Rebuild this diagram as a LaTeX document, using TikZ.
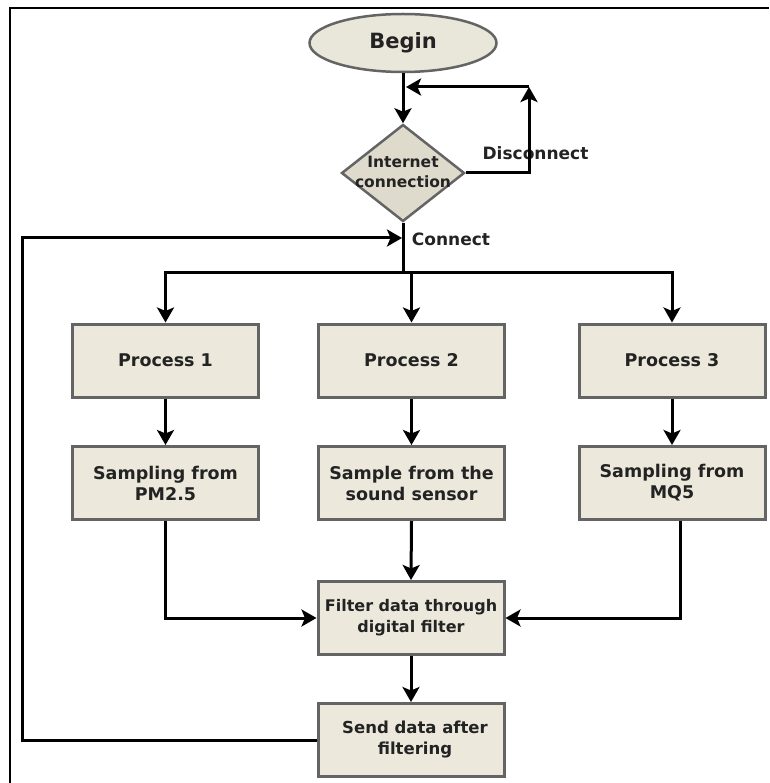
\documentclass[tikz,border=0pt]{standalone}
\usepackage{fontspec}
\setmainfont{DejaVu Sans}
\usetikzlibrary{shapes.geometric,arrows.meta}
\definecolor{boxfill}{RGB}{236,233,220}
\definecolor{ellfill}{RGB}{233,230,218}
\definecolor{diafill}{RGB}{222,219,205}
\definecolor{boxline}{RGB}{100,100,100}
\definecolor{txt}{RGB}{35,35,35}
\tikzset{
  flowbox/.style={draw=boxline, fill=boxfill, line width=3pt, minimum width=186pt, minimum height=73pt, inner sep=0pt, align=center, text=txt, font=\fontsize{17.5}{21}\selectfont\bfseries},
  conn/.style={line width=3pt, black},
  arr/.style={conn, -{Stealth[length=15pt,width=17pt,inset=3.5pt]}},
  lbl/.style={text=txt, font=\fontsize{17}{20}\selectfont\bfseries, inner sep=0pt}
}
\begin{document}
\begin{tikzpicture}[x=1pt,y=-1pt]
\useasboundingbox (0,0) rectangle (769,783);
% frame
\coordinate (fa) at (10,783);
\coordinate (fb) at (10,8);
\coordinate (fc) at (769,8);
\draw[line width=2.5pt] (fa) -- (fb) -- (fc);

\node[ellipse, draw=boxline, fill=ellfill, line width=2.5pt, minimum width=187pt, minimum height=58pt, inner sep=0pt, text=txt, font=\fontsize{21}{24}\selectfont\bfseries] (begin) at (403,43) {Begin};
\node[diamond, draw=boxline, fill=diafill, line width=2.5pt, minimum width=123pt, minimum height=97pt, inner sep=0pt] (inet) at (403,173) {};
\node[align=center, text=txt, inner sep=0pt, font=\fontsize{15.5}{20}\selectfont\bfseries] (inettext) at (403,172) {Internet\\connection};

\node[flowbox] (P1) at (165.5,360.5) {Process 1};
\node[flowbox] (P2) at (411.5,360.5) {Process 2};
\node[flowbox] (P3) at (672,360.5) {Process 3};
\node[flowbox] (S1) at (165.5,483) {Sampling from\\PM2.5};
\node[flowbox] (S2) at (411.5,483) {Sample from the\\sound sensor};
\node[flowbox] (S3) at (672,483) {Sampling from\\MQ5};
\node[flowbox, font=\fontsize{16}{21}\selectfont\bfseries] (F) at (411,618) {Filter data through\\digital filter};
\node[flowbox, font=\fontsize{16.5}{21}\selectfont\bfseries] (Send) at (411,740) {\hspace*{8pt}Send data after\\\hspace*{8pt}filtering};

\node[lbl] (dis) at (535.5,153) {Disconnect};
\node[lbl] (con) at (451,239) {Connect};

% begin -> decision
\draw[arr] (begin.south) -- (inet.north);
% disconnect loop
\coordinate (dc) at (529,87);
\coordinate (dj) at (406,87);
\draw[arr] (inet.east) -| (dc);
\draw[arr] (dc) -- (dj);
% connect
\coordinate (bar) at (403,272);
\draw[conn] (inet.south) -- (bar);
\draw[arr] (bar) -| (P1.north);
\draw[arr] (bar) -| (P2.north);
\draw[arr] (bar) -| (P3.north);
% process -> sampling
\draw[arr] (P1.south) -- (S1.north);
\draw[arr] (P2.south) -- (S2.north);
\draw[arr] (P3.south) -- (S3.north);
% sampling -> filter
\draw[arr] (S1.south) |- (F.west);
\draw[arr] (S2.south) -- (F.north);
\draw[arr] ([xshift=8pt]S3.south) |- (F.east);
% filter -> send
\draw[arr] (F.south) -- (Send.north);
% loop back
\coordinate (lb) at (22,238);
\coordinate (lbend) at (402,238);
\draw[arr] (Send.west) -| (lb) -- (lbend);
\end{tikzpicture}
\end{document}
